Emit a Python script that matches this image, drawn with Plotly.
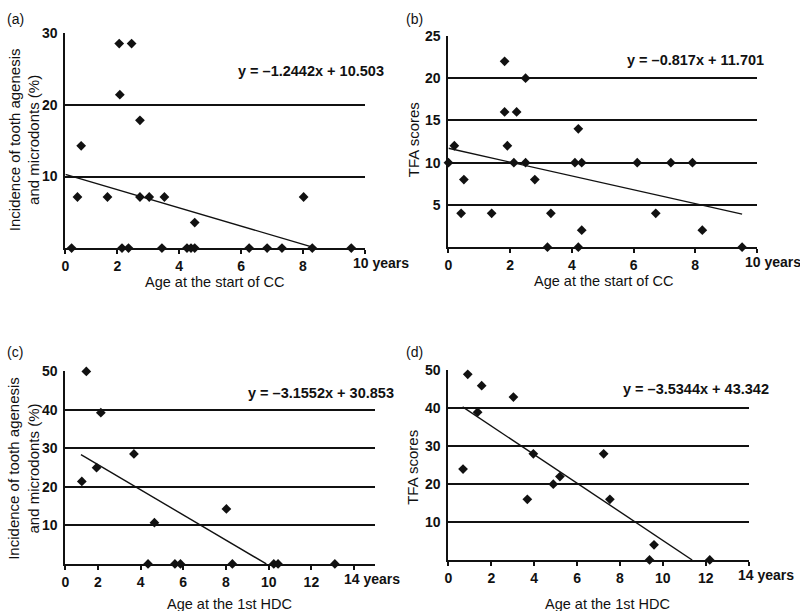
import plotly.graph_objects as go

# ---------------- data ----------------
# (a) incidence vs age at start of CC
a_age = [0.30, 0.52, 0.71, 0.83, 1.68, 2.06, 2.08, 2.15, 2.36, 2.46, 2.73, 2.73, 3.03,
         3.44, 3.52, 4.25, 4.38, 4.50, 4.50, 6.26, 6.84, 7.32, 8.02, 8.30, 9.56]
a_inc = [0, 0, 7.14, 14.29, 7.14, 28.57, 21.43, 0, 0, 28.57, 17.86, 7.14, 7.14,
         0, 7.14, 0, 0, 0, 3.57, 0, 0, 0, 7.14, 0, 0]
a_fit_x = [0.32, 8.42]
a_fit_y = [10.3, 0]
a_eq = "y = \u20131.2442x + 10.503"

# (b) TFA scores vs age at start of CC
b_age = [0.0, 0.19, 0.41, 0.50, 1.40, 1.82, 1.82, 1.91, 2.12, 2.21, 2.50, 2.50, 2.80,
         3.21, 3.32, 4.10, 4.21, 4.21, 4.32, 4.32, 6.12, 6.72, 7.21, 7.91, 8.23, 9.52]
b_tfa = [10, 12, 4, 8, 4, 22, 16, 12, 10, 16, 20, 10, 8,
         0, 4, 10, 14, 0, 10, 2, 10, 4, 10, 10, 2, 0]
b_fit_x = [0.0, 9.52]
b_fit_y = [11.7, 3.9]
b_eq = "y = \u20130.817x + 11.701"

# (c) incidence vs age at 1st HDC
c_age = [1.25, 1.46, 1.94, 2.14, 3.69, 4.35, 4.65, 5.61, 5.87, 8.02, 8.30, 10.24, 10.44, 13.10]
c_inc = [21.43, 50, 25, 39.29, 28.57, 0, 10.71, 0, 0, 14.29, 0, 0, 0, 0]
c_fit_x = [1.21, 9.89]
c_fit_y = [28.4, 0]
c_eq = "y = \u20133.1552x + 30.853"

# (d) TFA scores vs age at 1st HDC
d_age = [0.68, 0.90, 1.36, 1.55, 3.03, 3.68, 3.96, 4.89, 5.20, 7.24, 7.53, 9.38, 9.59, 12.19]
d_tfa = [24, 49, 39, 46, 43, 16, 28, 20, 22, 28, 16, 0, 4, 0]
d_fit_x = [0.66, 11.37]
d_fit_y = [40.4, 0]
d_eq = "y = \u20133.5344x + 43.342"

xticks_cc = [2, 4, 6, 8, 10]
xticks_hdc = [2, 4, 6, 8, 10, 12, 14]
yticks_a = [10, 20, 30]
yticks_b = [5, 10, 15, 20, 25]
yticks_cd = [10, 20, 30, 40, 50]

labels = ["(a)", "(b)", "(c)", "(d)"]
title_inc = "Incidence of tooth agenesis<br>and microdonts (%)"
title_tfa = "TFA scores"
title_cc = "Age at the start of CC"
title_hdc = "Age at the 1st HDC"

# ---------------- figure ----------------
W, H = 800, 611
FONT = "Liberation Sans, Arial, Helvetica, sans-serif"
INK = "#111111"
FS = 14.5

fig = go.Figure()

panels = [
    dict(x=a_age, y=a_inc, fx=a_fit_x, fy=a_fit_y, xa="x", ya="y"),
    dict(x=b_age, y=b_tfa, fx=b_fit_x, fy=b_fit_y, xa="x2", ya="y2"),
    dict(x=c_age, y=c_inc, fx=c_fit_x, fy=c_fit_y, xa="x3", ya="y3"),
    dict(x=d_age, y=d_tfa, fx=d_fit_x, fy=d_fit_y, xa="x4", ya="y4"),
]
for p in panels:
    fig.add_trace(go.Scatter(x=p["fx"], y=p["fy"], mode="lines", xaxis=p["xa"], yaxis=p["ya"],
                             line=dict(color=INK, width=1.4), showlegend=False, hoverinfo="skip"))
    fig.add_trace(go.Scatter(x=p["x"], y=p["y"], mode="markers", xaxis=p["xa"], yaxis=p["ya"],
                             marker=dict(symbol="diamond", size=7.5, color=INK, line=dict(width=0)),
                             cliponaxis=False, showlegend=False))

def px2fx(px):
    return px / W

def px2fy(py):
    return 1 - py / H

tickfont = dict(family=FONT, size=14, color=INK, weight="bold")

def xaxis(dom, rng, ticks, anchor):
    vals = [rng[0]] + ticks
    text = ["0"] + [str(t) for t in ticks[:-1]] + [""]
    return dict(domain=dom, range=rng, anchor=anchor, tickmode="array", tickvals=vals, ticktext=text,
                showgrid=False, zeroline=False, showline=True, linecolor=INK, linewidth=2,
                ticks="outside", ticklen=4, tickwidth=2, tickcolor=INK, tickfont=tickfont,
                ticklabelstandoff=0, fixedrange=True)

def yaxis(dom, rng, ticks, anchor):
    return dict(domain=dom, range=rng, anchor=anchor, tickmode="array", tickvals=ticks,
                ticktext=[str(t) for t in ticks],
                showgrid=True, gridcolor=INK, gridwidth=1.8, zeroline=False,
                showline=True, linecolor=INK, linewidth=2, ticks="", ticklabelstandoff=3,
                tickfont=tickfont, fixedrange=True)

fig.update_layout(
    width=W, height=H, margin=dict(l=0, r=0, t=0, b=0),
    paper_bgcolor="white", plot_bgcolor="white",
    font=dict(family=FONT, color=INK),
    xaxis=xaxis([px2fx(61.7), px2fx(362.7)], [0.32, 10], xticks_cc, "y"),
    yaxis=yaxis([px2fy(243.3), px2fy(25.7)], [0, 30], yticks_a, "x"),
    xaxis2=xaxis([px2fx(446.7), px2fx(756.7)], [0, 10], xticks_cc, "y2"),
    yaxis2=yaxis([px2fy(242.3), px2fy(28.3)], [0, 25], yticks_b, "x2"),
    xaxis3=xaxis([px2fx(61.7), px2fx(373.3)], [0.48, 15], xticks_hdc, "y3"),
    yaxis3=yaxis([px2fy(563.3), px2fy(368.3)], [0, 50], yticks_cd, "x3"),
    xaxis4=xaxis([px2fx(446.7), px2fx(748.3)], [0, 14], xticks_hdc, "y4"),
    yaxis4=yaxis([px2fy(559.3), px2fy(367.3)], [0, 50], yticks_cd, "x4"),
)

ann = []
# "NN years" labels at last ticks
for xr, yr, xv, sh in [("x", "y", 10, -14), ("x2", "y2", 10, -14), ("x3", "y3", 14, -12), ("x4", "y4", 14, -13)]:
    ann.append(dict(x=xv, y=0, xref=xr, yref=yr, text="%d years" % xv, showarrow=False,
                    xanchor="left", yanchor="middle", xshift=sh, yshift=-15,
                    font=dict(family=FONT, size=14, color=INK, weight="bold")))
# equations
for xr, yr, xv, yv, t in [("x", "y", 5.83, 24.8, a_eq), ("x2", "y2", 5.72, 22.1, b_eq),
                          ("x3", "y3", 8.92, 44.4, c_eq), ("x4", "y4", 8.05, 45.1, d_eq)]:
    ann.append(dict(x=xv, y=yv, xref=xr, yref=yr, text=t, showarrow=False,
                    xanchor="left", yanchor="middle",
                    font=dict(family=FONT, size=FS, color=INK, weight="bold")))
# axis titles
for xp, yp, t in [(212, 277.5, title_cc), (603, 276.5, title_cc), (227, 604, title_hdc), (607, 604, title_hdc)]:
    ann.append(dict(x=px2fx(xp), y=px2fy(yp), xref="paper", yref="paper", text=t, showarrow=False,
                    xanchor="center", yanchor="middle", font=dict(family=FONT, size=FS, color=INK)))
for xp, yp, t in [(20, 133, title_inc), (411, 133, title_tfa), (20, 466, title_inc), (411, 465, title_tfa)]:
    ann.append(dict(x=px2fx(xp), y=px2fy(yp), xref="paper", yref="paper", text=t, showarrow=False,
                    textangle=-90, xanchor="center", yanchor="middle",
                    font=dict(family=FONT, size=15, color=INK)))
# panel labels
for xp, yp, t in zip([1, 402, 1, 402], [11, 11, 349, 349], labels):
    ann.append(dict(x=px2fx(xp), y=px2fy(yp), xref="paper", yref="paper", text=t, showarrow=False,
                    xanchor="left", yanchor="middle", font=dict(family=FONT, size=14, color=INK)))
fig.update_layout(annotations=ann)

fig.write_html("out.html", config={"displayModeBar": False},
               post_script="document.body.style.margin='0px';")
